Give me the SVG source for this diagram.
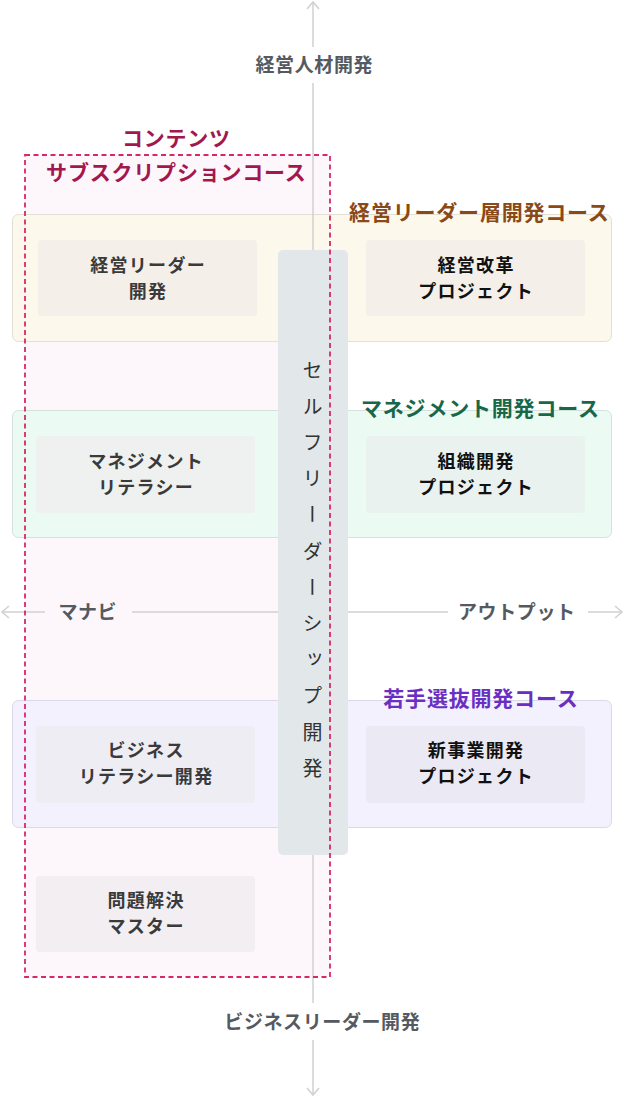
<svg xmlns="http://www.w3.org/2000/svg" width="624" height="1098" viewBox="0 0 624 1098">
<style>
text{font-family:"Noto Sans CJK JP","Noto Sans",sans-serif;}
.axis{stroke:#d0d0d0;stroke-width:1.5;fill:none;}
.axl{font-size:19px;font-weight:700;fill:#555a61;letter-spacing:0.6px;text-anchor:middle;}
.ttl{font-size:21px;font-weight:700;letter-spacing:0.8px;text-anchor:middle;}
.nt{font-size:18px;font-weight:700;letter-spacing:1.3px;text-anchor:middle;}
.lt{fill:#3a3a3a;}
.rt{fill:#111;}
.course{stroke-width:1;}
</style>
<rect width="624" height="1098" fill="#ffffff"/>
<g id="subscription-bg">
<rect x="25" y="155" width="305" height="822" fill="#fdf7fb"/>
</g>
<g id="course-executive">
<rect class="course" x="12.5" y="214.5" width="599" height="127" rx="6" fill="#fdf8ec" stroke="#e4dfd4"/>
</g>
<g id="course-management">
<rect class="course" x="12.5" y="410.5" width="599" height="127" rx="6" fill="#ebfaf3" stroke="#d3e3db"/>
</g>
<g id="course-young">
<rect class="course" x="12.5" y="700.5" width="599" height="127" rx="6" fill="#f3f1fd" stroke="#dbd8ea"/>
</g>
<g id="connectors">
<line class="axis" x1="313" y1="2" x2="313" y2="47"/>
<line class="axis" x1="313" y1="83" x2="313" y2="1003"/>
<line class="axis" x1="313" y1="1040" x2="313" y2="1095"/>
<polyline class="axis" points="307,9 313,2 319,9"/>
<polyline class="axis" points="307,1088 313,1095 319,1088"/>
<line class="axis" x1="2" y1="612" x2="45" y2="612"/>
<line class="axis" x1="132" y1="612" x2="448" y2="612"/>
<line class="axis" x1="588" y1="612" x2="622" y2="612"/>
<polyline class="axis" points="9,606 2,612 9,618"/>
<polyline class="axis" points="615,606 622,612 615,618"/>
</g>
<g id="axis-labels">
<text class="axl" x="314.3" y="72">経営人材開発</text>
<text class="axl" x="322.3" y="1029">ビジネスリーダー開発</text>
<text class="axl" x="87.8" y="619">マナビ</text>
<text class="axl" x="516.8" y="619">アウトプット</text>
</g>
<g id="self-leadership">
<rect x="278" y="250" width="70" height="605" rx="5" fill="#e2e8ea"/>
<text x="312.5" y="360" style="writing-mode:vertical-rl;font-size:20px;font-weight:400;letter-spacing:16.2px;fill:#333;">セルフリーダーシップ開発</text>
</g>
<g id="node-keiei-leader">
<rect x="38" y="240" width="219" height="76" rx="4" fill="#f4efe8"/>
<text class="nt lt" x="148.1" y="272">経営リーダー</text>
<text class="nt lt" x="148.1" y="298">開発</text>
</g>
<g id="node-keiei-kaikaku">
<rect x="366" y="240" width="219" height="76" rx="4" fill="#f4efe8"/>
<text class="nt rt" x="476.1" y="272">経営改革</text>
<text class="nt rt" x="476.1" y="298">プロジェクト</text>
</g>
<g id="node-management-literacy">
<rect x="36" y="436" width="219" height="77" rx="4" fill="#eef1ef"/>
<text class="nt lt" x="146.1" y="468">マネジメント</text>
<text class="nt lt" x="146.1" y="494">リテラシー</text>
</g>
<g id="node-soshiki">
<rect x="366" y="436" width="219" height="77" rx="4" fill="#e9f2ee"/>
<text class="nt rt" x="476.1" y="468">組織開発</text>
<text class="nt rt" x="476.1" y="494">プロジェクト</text>
</g>
<g id="node-business-literacy">
<rect x="36" y="726" width="219" height="77" rx="4" fill="#efedf4"/>
<text class="nt lt" x="146.1" y="757">ビジネス</text>
<text class="nt lt" x="146.1" y="783">リテラシー開発</text>
</g>
<g id="node-shinjigyo">
<rect x="366" y="726" width="219" height="77" rx="4" fill="#ebe9f3"/>
<text class="nt rt" x="476.1" y="757">新事業開発</text>
<text class="nt rt" x="476.1" y="783">プロジェクト</text>
</g>
<g id="node-mondai">
<rect x="36" y="876" width="219" height="76" rx="4" fill="#f2eef2"/>
<text class="nt lt" x="146.1" y="907">問題解決</text>
<text class="nt lt" x="146.1" y="933">マスター</text>
</g>
<g id="course-titles">
<text class="ttl" x="479.4" y="219.5" fill="#8a4a17">経営リーダー層開発コース</text>
<text class="ttl" x="480.4" y="415.5" fill="#17684a">マネジメント開発コース</text>
<text class="ttl" x="480.9" y="705.5" fill="#6a2fc2">若手選抜開発コース</text>
</g>
<g id="subscription-course">
<rect x="25" y="155" width="305" height="822" fill="none" stroke="#d8286a" stroke-width="1.8" stroke-dasharray="5,3.5"/>
<text class="ttl" x="176.4" y="145.5" fill="#a3174f">コンテンツ</text>
<text class="ttl" x="176.4" y="179.5" fill="#a3174f">サブスクリプションコース</text>
</g>
</svg>
